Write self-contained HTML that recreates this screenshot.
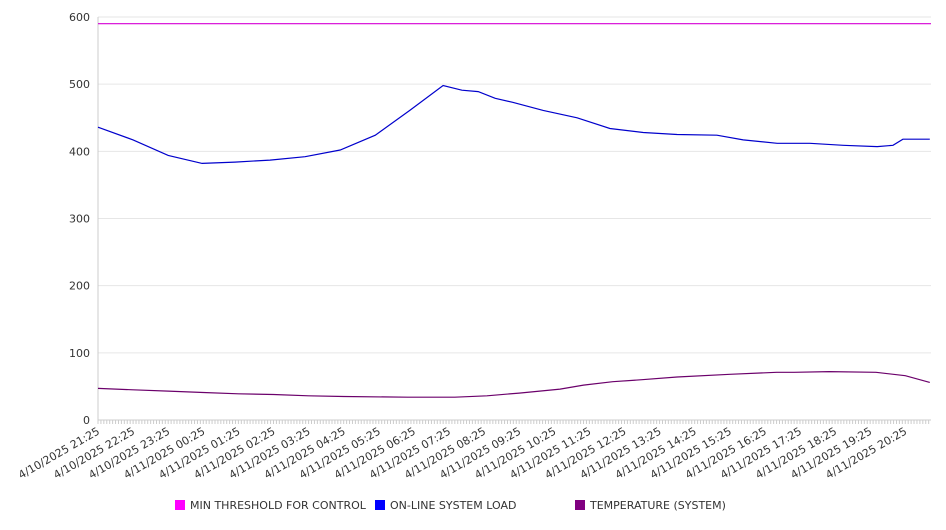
<!DOCTYPE html>
<html><head><meta charset="utf-8"><style>
body{margin:0;background:#fff;font-family:"DejaVu Sans","Liberation Sans",sans-serif;}
svg text{font-family:"DejaVu Sans","Liberation Sans",sans-serif;font-size:11px;fill:#333;}
</style></head><body>
<svg id="chart" width="946" height="526">
<g id="grid"></g><g id="axes"></g><g id="series"></g><g id="legend"></g>
</svg>
<script>
const yTicks=[0,100,200,300,400,500,600];
const xLabels=["4/10/2025 21:25","4/10/2025 22:25","4/10/2025 23:25","4/11/2025 00:25","4/11/2025 01:25","4/11/2025 02:25","4/11/2025 03:25","4/11/2025 04:25","4/11/2025 05:25","4/11/2025 06:25","4/11/2025 07:25","4/11/2025 08:25","4/11/2025 09:25","4/11/2025 10:25","4/11/2025 11:25","4/11/2025 12:25","4/11/2025 13:25","4/11/2025 14:25","4/11/2025 15:25","4/11/2025 16:25","4/11/2025 17:25","4/11/2025 18:25","4/11/2025 19:25","4/11/2025 20:25"];
const loadMinutes=[0,60,120,178,234,294,354,414,474,533,590,622,650,679,709,761,819,875,932,990,1058,1103,1161,1217,1274,1332,1359,1376,1422];
const loadValues=[436,417,394,382,384,387,392,402,424,461,498,491,489,479,473,461,450,434,428,425,424,417,412,412,409,407,409,418,418];
const tempMinutes=[0,60,120,180,240,300,360,420,530,610,665,720,790,830,880,930,990,1080,1160,1190,1250,1330,1380,1422];
const tempValues=[47,45,43,41,39,38,36,35,34,34,36,40,46,52,57,60,64,68,71,71,72,71,66,56];
const thresholdMinutes=[0,1424];
const thresholdValues=[590,590];
const X0=98,X1=931,Y0=420,Y1=17,totalMin=1424;
const xs=m=>X0+(X1-X0)*m/totalMin;
const ys=v=>Y0-(Y0-Y1)*v/600;
const NS="http://www.w3.org/2000/svg";
function mk(t,p,attrs){const e=document.createElementNS(NS,t);for(const k in attrs)e.setAttribute(k,attrs[k]);p.appendChild(e);return e;}
const grid=document.getElementById('grid'),axes=document.getElementById('axes'),series=document.getElementById('series'),legend=document.getElementById('legend');
yTicks.forEach(v=>{
 if(v>0){const l=mk('line',grid,{x1:X0,x2:X1,y1:ys(v),y2:ys(v),stroke:'#e6e6e6'});
 
 }
 const t=mk('text',axes,{x:90,y:ys(v)+4,'text-anchor':'end'});t.textContent=v;
 
 
});
const ya=mk('line',axes,{x1:X0,x2:X0,y1:Y1,y2:Y0,stroke:'#ccc'});


const xa=mk('line',axes,{x1:X0,x2:X1,y1:Y0,y2:Y0,stroke:'#ccc'});


for(let m=0;m<=totalMin;m+=5){mk('line',axes,{x1:xs(m),x2:xs(m),y1:Y0,y2:Y0+4,stroke:'#ccc'});}
xLabels.forEach((s,i)=>{const x=xs(i*60);
 const t=mk('text',axes,{x:x,y:Y0+14,'text-anchor':'end',transform:`rotate(-30 ${x} ${Y0+9})`});t.textContent=s;
 
 
});
function line(ms,vs,color,name){const d=ms.map((m,i)=>(i?'L':'M')+xs(m).toFixed(1)+' '+ys(vs[i]).toFixed(1)).join(' ');
 const p=mk('path',series,{d:d,fill:'none',stroke:color,'stroke-width':1.2});
 
 }
line(thresholdMinutes,thresholdValues,'#d400d4','min-threshold-line');
line(loadMinutes,loadValues,'#0000cc','system-load-line');
line(tempMinutes,tempValues,'#6b006b','temperature-line');
const leg=[["MIN THRESHOLD FOR CONTROL","#ff00ff",175],["ON-LINE SYSTEM LOAD","#0000ff",375],["TEMPERATURE (SYSTEM)","#800080",575]];
leg.forEach(([n,c,x])=>{const g=mk('g',legend,{});
 
 
 mk('rect',g,{x:x,y:500,width:10,height:10,fill:c});
 const t=mk('text',g,{x:x+15,y:509});t.textContent=n;});
</script>
</body></html>
